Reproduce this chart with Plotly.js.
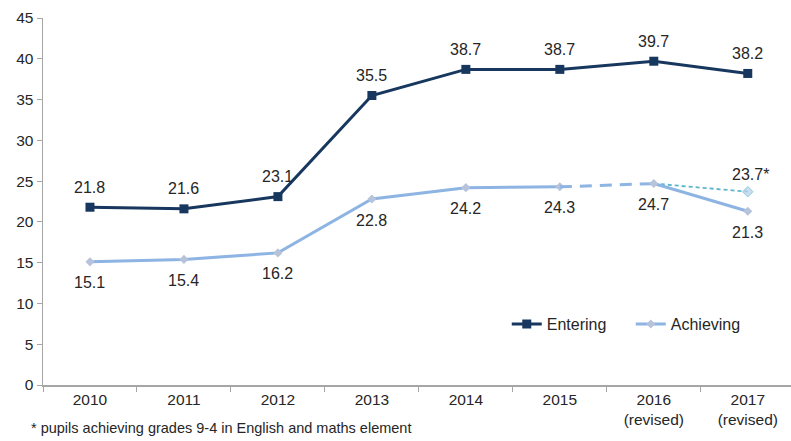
<!DOCTYPE html>
<html>
<head>
<meta charset="utf-8">
<script src="https://cdn.plot.ly/plotly-3.0.1.min.js"></script>
<style>html,body{margin:0;padding:0;background:#fff;}#chart{width:791px;height:441px;}</style>
</head>
<body>
<div id="chart"></div>
<script>
const categories = ['2010','2011','2012','2013','2014','2015','2016<br>(revised)','2017<br>(revised)'];
const entering = [21.8, 21.6, 23.1, 35.5, 38.7, 38.7, 39.7, 38.2];
const achieving = [15.1, 15.4, 16.2, 22.8, 24.2, 24.3, 24.7, 21.3];
const achievingAlt2017 = 23.7;   // pupils achieving grades 9-4 in English and maths element
const footnote = '* pupils achieving grades 9-4 in English and maths element';

const fmt = v => v.toFixed(1);
const FONT = 'Liberation Sans, Arial, sans-serif';
const labelFont = {family: FONT, size: 16, color: '#262626'};
const achLine = '#8DB4E2';
const achMarker = {symbol: 'diamond', size: 7, color: '#B7C3DA', line: {width: 0}};

const traces = [
  {
    name: 'Entering', x: categories, y: entering, type: 'scatter', mode: 'lines+markers',
    line: {color: '#17375E', width: 3}, marker: {symbol: 'square', size: 9, color: '#17375E'}
  },
  {
    name: 'Achieving', x: categories.slice(0, 6), y: achieving.slice(0, 6), type: 'scatter',
    mode: 'lines+markers', legendgroup: 'ach',
    line: {color: achLine, width: 3}, marker: achMarker
  },
  {
    name: 'Achieving', x: categories.slice(5, 7), y: achieving.slice(5, 7), type: 'scatter',
    mode: 'lines', legendgroup: 'ach', showlegend: false,
    line: {color: achLine, width: 3, dash: '12px,8px'}
  },
  {
    name: 'Achieving*', x: categories.slice(6, 8), y: [achieving[6], achievingAlt2017], type: 'scatter',
    mode: 'lines+markers', showlegend: false,
    line: {color: '#5BB6CC', width: 1.8, dash: '4px,3px'},
    marker: {symbol: 'diamond', size: [0, 8], color: '#B9D0EA'}
  },
  {
    name: 'Achieving', x: categories.slice(6, 8), y: achieving.slice(6, 8), type: 'scatter',
    mode: 'lines+markers', legendgroup: 'ach', showlegend: false,
    line: {color: achLine, width: 3}, marker: achMarker
  }
];

const annotations = [];
categories.forEach((c, i) => {
  annotations.push({x: i, y: entering[i], text: fmt(entering[i]), showarrow: false,
    yshift: 20, font: labelFont, xanchor: 'center', yanchor: 'middle'});
  annotations.push({x: i, y: achieving[i], text: fmt(achieving[i]), showarrow: false,
    yshift: -21, font: labelFont, xanchor: 'center', yanchor: 'middle'});
});
annotations.push({x: 7, y: achievingAlt2017, text: fmt(achievingAlt2017) + '*', showarrow: false,
  yshift: 17, xshift: 3, font: labelFont, xanchor: 'center', yanchor: 'middle'});
annotations.push({text: footnote, xref: 'paper', yref: 'paper', x: -0.019, xanchor: 'left', y: -0.117,
  yanchor: 'middle', showarrow: false, font: {family: FONT, size: 14.5, color: '#262626'}});

const layout = {
  width: 791, height: 441,
  margin: {l: 43, r: 0, t: 18, b: 56},
  paper_bgcolor: '#fff', plot_bgcolor: '#fff',
  font: {family: FONT, size: 15, color: '#262626'},
  showlegend: true,
  legend: {orientation: 'h', x: 0.62, xanchor: 'left', y: 0.166, yanchor: 'middle',
           entrywidth: 79, entrywidthmode: 'pixels',
           font: {size: 16, color: '#262626'}, bgcolor: 'rgba(0,0,0,0)', traceorder: 'normal'},
  xaxis: {
    type: 'category', range: [-0.5, 7.46], tickson: 'boundaries',
    ticks: 'outside', ticklen: 5, tickcolor: '#A6A6A6', showline: true, linecolor: '#A6A6A6', linewidth: 1.5,
    showgrid: false, zeroline: false, fixedrange: true,
    tickfont: {size: 15.5, color: '#262626'}
  },
  yaxis: {
    range: [0, 45], dtick: 5, ticks: 'outside', ticklen: 5, tickcolor: '#A6A6A6',
    showline: true, linecolor: '#A6A6A6', linewidth: 1.5, showgrid: false, zeroline: false,
    tickfont: {size: 15.5, color: '#262626'}
  },
  annotations: annotations
};

Plotly.newPlot('chart', traces, layout, {displayModeBar: false, staticPlot: true});
</script>
</body>
</html>
